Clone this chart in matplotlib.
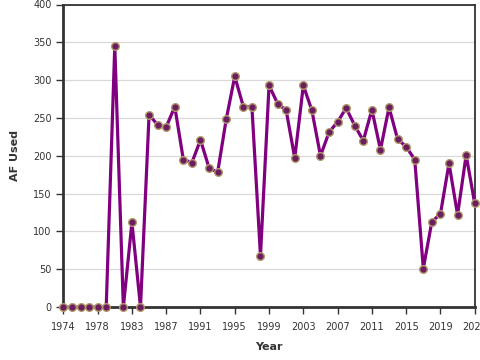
import matplotlib
matplotlib.use('Agg')
import matplotlib.pyplot as plt
import numpy as np

# years (one year is missing between 1978 and 1983 in the source)
years = list(range(1974, 1979)) + list(range(1980, 2024))
af_used = [0, 0, 0, 0, 0, 0, 345, 0, 112, 0,
           254, 241, 238, 265, 195, 191, 221, 184, 178, 248,
           305, 265, 265, 68, 293, 269, 260, 197, 293, 260,
           200, 231, 245, 263, 240, 220, 261, 208, 264, 222,
           212, 195, 51, 113, 123, 190, 122, 201, 137]
tick_every = 4

fig = plt.figure(figsize=(4.8, 3.6), dpi=100)
ax = fig.add_axes([0.132, 0.147, 0.857, 0.8405])

x = np.arange(len(years))
ax.plot(x, af_used, color='#800080', linewidth=2.3, zorder=3,
        marker='o', markersize=5.5, markerfacecolor='#6b1d5f',
        markeredgecolor='#b09a6a', markeredgewidth=1.0, clip_on=False)

ax.set_xlim(0, len(years) - 1)
ax.set_ylim(0, 400)
ax.set_yticks(np.arange(0, 401, 50))
ax.set_xticks(x[::tick_every])
ax.set_xticklabels([str(y) for y in years[::tick_every]])
ax.yaxis.grid(True, color='#d9d9d9', linewidth=0.9)
ax.set_axisbelow(True)

for s in ['left', 'bottom']:
    ax.spines[s].set_linewidth(2)
    ax.spines[s].set_color('#333333')
for s in ['top', 'right']:
    ax.spines[s].set_linewidth(1.3)
    ax.spines[s].set_color('#333333')

ax.tick_params(axis='both', labelsize=7, color='#333333', labelcolor='#333333',
               length=5, width=1)
ax.tick_params(axis='x', pad=6)

ax.set_xlabel('Year', fontsize=8, fontweight='bold', color='#333333', labelpad=7)
ax.set_ylabel('AF Used', fontsize=8, fontweight='bold', color='#333333', labelpad=9)

fig.savefig('out.png', dpi=100)
